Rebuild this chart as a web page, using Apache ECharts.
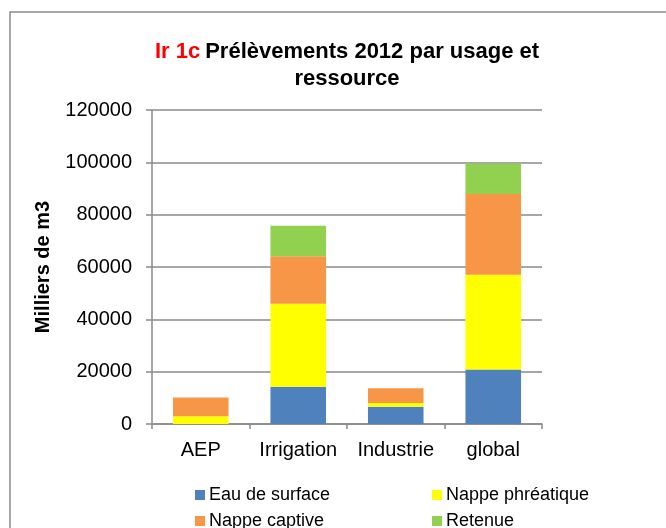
<!DOCTYPE html>
<html>
<head>
<meta charset="utf-8">
<script src="https://cdn.jsdelivr.net/npm/echarts@6/dist/echarts.min.js"></script>
<style>
html,body{margin:0;padding:0;background:#fff;}
#chart{width:666px;height:528px;}
</style>
</head>
<body>
<div id="chart"></div>
<script>
const categories = ['AEP', 'Irrigation', 'Industrie', 'global'];
const eauSurface = [0, 14200, 6600, 20800];
const nappePhreatique = [3000, 31800, 1400, 36200];
const nappeCaptive = [7100, 18100, 5700, 30900];
const retenue = [0, 11700, 0, 11700];
const yTicks = [0, 20000, 40000, 60000, 80000, 100000, 120000];

const FONT = '"Liberation Sans", Arial, sans-serif';
const chart = echarts.init(document.getElementById('chart'), null, {renderer: 'canvas'});

function bar(name, data, color) {
  return {
    name: name, type: 'bar', stack: 'total', data: data,
    barWidth: '57%',
    itemStyle: {color: color},
    emphasis: {disabled: true}
  };
}

function leg(name, left, top) {
  return {
    data: [name], orient: 'horizontal', left: left, top: top,
    width: 250, height: 30, padding: 0,
    itemWidth: 10, itemHeight: 10, icon: 'rect',
    textStyle: {fontSize: 18, color: '#000', fontFamily: FONT, padding: [0, 0, 0, -1]}
  };
}

chart.setOption({
  animation: false,
  backgroundColor: '#ffffff',
  textStyle: {fontFamily: FONT},
  graphic: [{
    type: 'rect', z: -10, silent: true,
    shape: {x: 10, y: 12, width: 720, height: 620},
    style: {fill: 'none', stroke: '#8a8a8a', lineWidth: 1.5}
  }],
  title: {
    text: '{r|Ir 1c} {b|Prélèvements 2012 par usage et}\n{b|ressource}',
    left: 342, top: 33, textAlign: 'center',
    textStyle: {
      fontFamily: FONT,
      rich: {
        r: {color: '#ff0000', fontWeight: 'bold', fontSize: 22, fontFamily: FONT, lineHeight: 27},
        b: {color: '#000000', fontWeight: 'bold', fontSize: 22, fontFamily: FONT, lineHeight: 27}
      }
    }
  },
  legend: [
    leg('Eau de surface', 195, 486),
    leg('Nappe phréatique', 432, 486),
    leg('Nappe captive', 195, 512),
    leg('Retenue', 432, 512)
  ],
  grid: {left: 152, right: 124, top: 110, bottom: 104, containLabel: false},
  xAxis: {
    type: 'category', data: categories,
    axisLine: {show: true, lineStyle: {color: '#8a8a8a', width: 1.5}},
    axisTick: {show: true, alignWithLabel: false, length: 5, lineStyle: {color: '#8a8a8a', width: 1.5}},
    axisLabel: {fontSize: 20, color: '#000', margin: 16, interval: 0, fontFamily: FONT},
    splitLine: {show: false}
  },
  yAxis: {
    type: 'value', min: yTicks[0], max: yTicks[yTicks.length - 1], interval: yTicks[1] - yTicks[0],
    name: 'Milliers de m3', nameLocation: 'middle', nameRotate: 90, nameGap: 99,
    nameTextStyle: {fontSize: 20, fontWeight: 'bold', color: '#000', fontFamily: FONT},
    axisLine: {show: true, lineStyle: {color: '#8a8a8a', width: 1.5}},
    axisTick: {show: true, inside: false, length: 6, lineStyle: {color: '#8a8a8a', width: 1.5}},
    axisLabel: {fontSize: 20, color: '#000', margin: 20, fontFamily: FONT, formatter: function (v) { return String(v); }},
    splitLine: {show: true, lineStyle: {color: '#8a8a8a', width: 1.5}}
  },
  series: [
    bar('Eau de surface', eauSurface, '#4f81bd'),
    bar('Nappe phréatique', nappePhreatique, '#ffff00'),
    bar('Nappe captive', nappeCaptive, '#f79646'),
    bar('Retenue', retenue, '#92d050')
  ]
});
</script>
</body>
</html>
